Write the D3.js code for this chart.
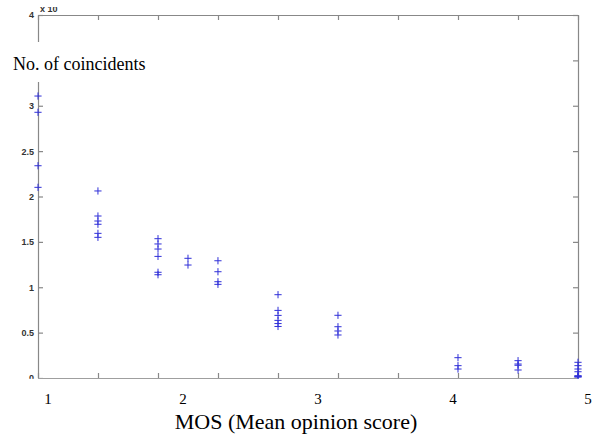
<!DOCTYPE html>
<html>
<head>
<meta charset="utf-8">
<script src="https://cdn.jsdelivr.net/npm/d3@7"></script>
<style>
  body { margin: 0; background: #fff; }
  svg { display: block; }
  .axis path, .axis line { stroke: #888; stroke-width: 1.2; }
  .axis text { font-family: "Liberation Sans", Arial, sans-serif; font-size: 9px; font-weight: bold; fill: #333; }
  .label { font-family: "Liberation Serif", "Times New Roman", serif; fill: #000; }
</style>
</head>
<body>
<script>
// MOS levels (x) and the coincident counts seen at each level (x 10^4)
var mosLevels = [1, 1.444, 1.889, 2.111, 2.333, 2.778, 3.222, 4.111, 4.556, 5];
var coincidents = [
    [3.107, 2.928, 2.339, 2.101],
    [2.061, 1.785, 1.730, 1.694, 1.594, 1.550],
    [1.535, 1.477, 1.421, 1.340, 1.165, 1.138],
    [1.319, 1.245],
    [1.292, 1.171, 1.061, 1.032],
    [0.918, 0.745, 0.690, 0.635, 0.600, 0.568],
    [0.691, 0.565, 0.518, 0.474],
    [0.224, 0.136, 0.099],
    [0.191, 0.154, 0.140, 0.088],
    [0.173, 0.136, 0.099, 0.069, 0.025, 0.020, 0.015, 0.010]
];
var yTicks = [0, 0.5, 1, 1.5, 2, 2.5, 3, 3.5, 4];
// 3.5 sits under the y title's white patch, so it carries no label
var yTickLabels = ['0', '0.5', '1', '1.5', '2', '2.5', '3', '', '4'];
var xLabels = [1, 2, 3, 4, 5];

var width = 598, height = 434;
var box = {left: 38, right: 578, top: 15, bottom: 378};

var points = [];
mosLevels.forEach(function(m, i) {
    coincidents[i].forEach(function(v) { points.push({mos: m, value: v}); });
});

var svg = d3.select('body').append('svg')
    .attr('width', width)
    .attr('height', height);

var x = d3.scaleLinear().domain([1, 5]).range([box.left, box.right]);
var y = d3.scaleLinear().domain([0, 4]).range([box.bottom, box.top]);
// the typed-in MOS labels under the figure sit on their own spacing
var xLabel = d3.scaleLinear().domain([1, 5]).range([48, 588]);
var xTicks = d3.range(10).map(function(i) { return 1 + i * 4 / 9; });

svg.append('g').attr('class', 'axis')
    .attr('transform', 'translate(' + box.left + ',0)')
    .call(d3.axisLeft(y).tickValues(yTicks).tickSize(-5).tickSizeOuter(0)
          .tickPadding(4)
          .tickFormat(function(d, i) { return yTickLabels[i]; }));
svg.append('g').attr('class', 'axis')
    .attr('transform', 'translate(' + box.right + ',0)')
    .call(d3.axisRight(y).tickValues(yTicks).tickSize(-5).tickSizeOuter(0)
          .tickFormat(''));
svg.append('g').attr('class', 'axis')
    .attr('transform', 'translate(0,' + box.top + ')')
    .call(d3.axisTop(x).tickValues(xTicks).tickSize(-5).tickSizeOuter(0)
          .tickFormat(''));
svg.append('g').attr('class', 'axis')
    .attr('transform', 'translate(0,' + box.bottom + ')')
    .call(d3.axisBottom(x).tickValues(xTicks).tickSize(-5).tickSizeOuter(0)
          .tickFormat(''));

// markers
var s = 3.6;
svg.append('g').selectAll('path')
    .data(points)
    .enter()
    .append('path')
    .attr('d', function(d) {
        var px = x(d.mos), py = y(d.value);
        return 'M' + (px - s) + ',' + py + 'H' + (px + s) +
               'M' + px + ',' + (py - s) + 'V' + (py + s);
    })
    .attr('fill', 'none')
    .attr('stroke', '#3030d8')
    .attr('stroke-width', 1);

// exponent note at the top (page crop cuts it)
svg.append('text')
    .attr('x', box.left + 2)
    .attr('y', 12)
    .attr('font-family', 'Liberation Sans, Arial, sans-serif')
    .attr('font-size', 9)
    .attr('font-weight', 'bold')
    .attr('fill', '#333')
    .text('x 10');
svg.append('rect')
    .attr('x', 0).attr('y', 0)
    .attr('width', width).attr('height', 7)
    .attr('fill', '#fff');

// white patch under the y title
svg.append('rect')
    .attr('x', 0).attr('y', 42)
    .attr('width', 170).attr('height', 40)
    .attr('fill', '#fff');
svg.append('text')
    .attr('class', 'label')
    .attr('x', 13)
    .attr('y', 70)
    .attr('font-size', 18)
    .text('No. of coincidents');

// white area below the axes holding the MOS labels
svg.append('rect')
    .attr('x', 0).attr('y', box.bottom + 0.8)
    .attr('width', width).attr('height', height - box.bottom)
    .attr('fill', '#fff');
svg.append('g').selectAll('text')
    .data(xLabels)
    .enter()
    .append('text')
    .attr('class', 'label')
    .attr('x', function(d) { return xLabel(d); })
    .attr('y', 404)
    .attr('text-anchor', 'middle')
    .attr('font-size', 15)
    .text(function(d) { return d; });
svg.append('text')
    .attr('class', 'label')
    .attr('x', 296)
    .attr('y', 429)
    .attr('text-anchor', 'middle')
    .attr('font-size', 22)
    .text('MOS (Mean opinion score)');
</script>
</body>
</html>
